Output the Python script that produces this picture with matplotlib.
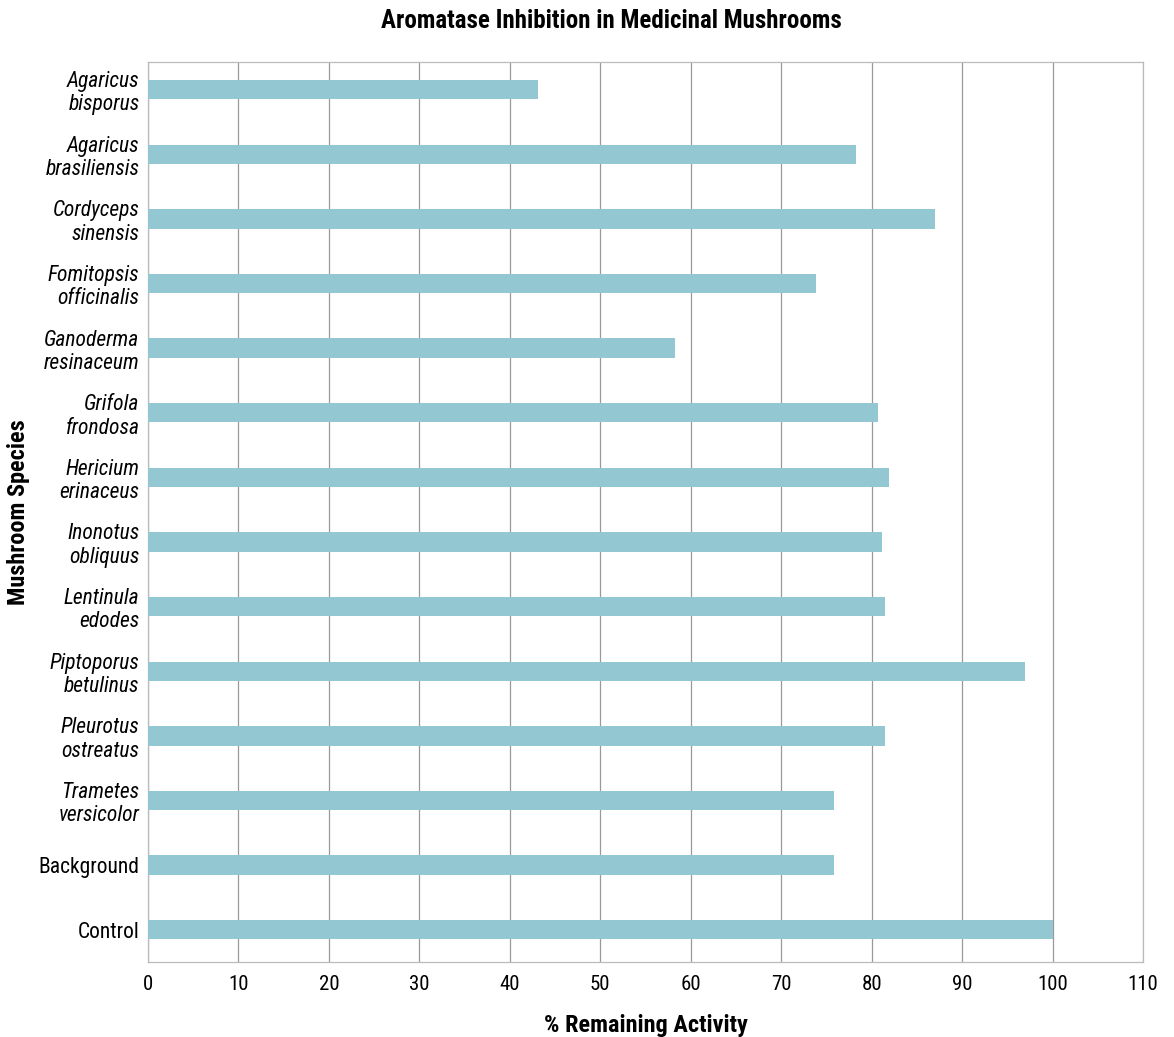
import matplotlib
matplotlib.use('Agg')
import matplotlib.pyplot as plt

plt.rcParams['font.family'] = ['Roboto Condensed', 'Liberation Sans', 'DejaVu Sans']

# species labels (two lines, italic) + controls
species = ['Agaricus\nbisporus', 'Agaricus\nbrasiliensis', 'Cordyceps\nsinensis',
           'Fomitopsis\nofficinalis', 'Ganoderma\nresinaceum', 'Grifola\nfrondosa',
           'Hericium\nerinaceus', 'Inonotus\nobliquus', 'Lentinula\nedodes',
           'Piptoporus\nbetulinus', 'Pleurotus\nostreatus', 'Trametes\nversicolor',
           'Background', 'Control']
activity = [43.1, 78.3, 87.0, 73.8, 58.3, 80.7, 81.9, 81.2, 81.5, 96.9, 81.5, 75.8, 75.8, 100]
xticks = [0, 10, 20, 30, 40, 50, 60, 70, 80, 90, 100, 110]

fig = plt.figure(figsize=(11.74, 10.37), dpi=100)
ax = fig.add_axes([0.126, 0.0723, 0.8476, 0.8675])

ypos = list(range(len(species)))
ax.barh(ypos, activity, height=0.30, color='#93c8d3', zorder=3)

ax.set_xlim(0, 110)
ax.set_ylim(13.5, -0.42)
ax.set_xticks(xticks)
ax.set_xticklabels([str(t) for t in xticks], fontsize=15)
ax.set_yticks(ypos)
ax.set_yticklabels(species, fontsize=15.5, linespacing=1.15)
for lbl in ax.get_yticklabels()[:12]:
    lbl.set_style('italic')

ax.grid(axis='x', color='#999999', linewidth=0.9, zorder=0)
ax.tick_params(length=0, pad=6)
ax.tick_params(axis='x', pad=9)
for s in ax.spines.values():
    s.set_color('#bbbbbb')
    s.set_linewidth(0.9)

ax.set_xlabel('% Remaining Activity', fontsize=17.5, fontweight='bold', labelpad=15)
ax.set_ylabel('Mushroom Species', fontsize=17.5, fontweight='bold', labelpad=6)
fig.text(0.521, 0.98, 'Aromatase Inhibition in Medicinal Mushrooms', fontsize=18,
         fontweight='bold', ha='center', va='center')

fig.savefig('out.png', dpi=100)
